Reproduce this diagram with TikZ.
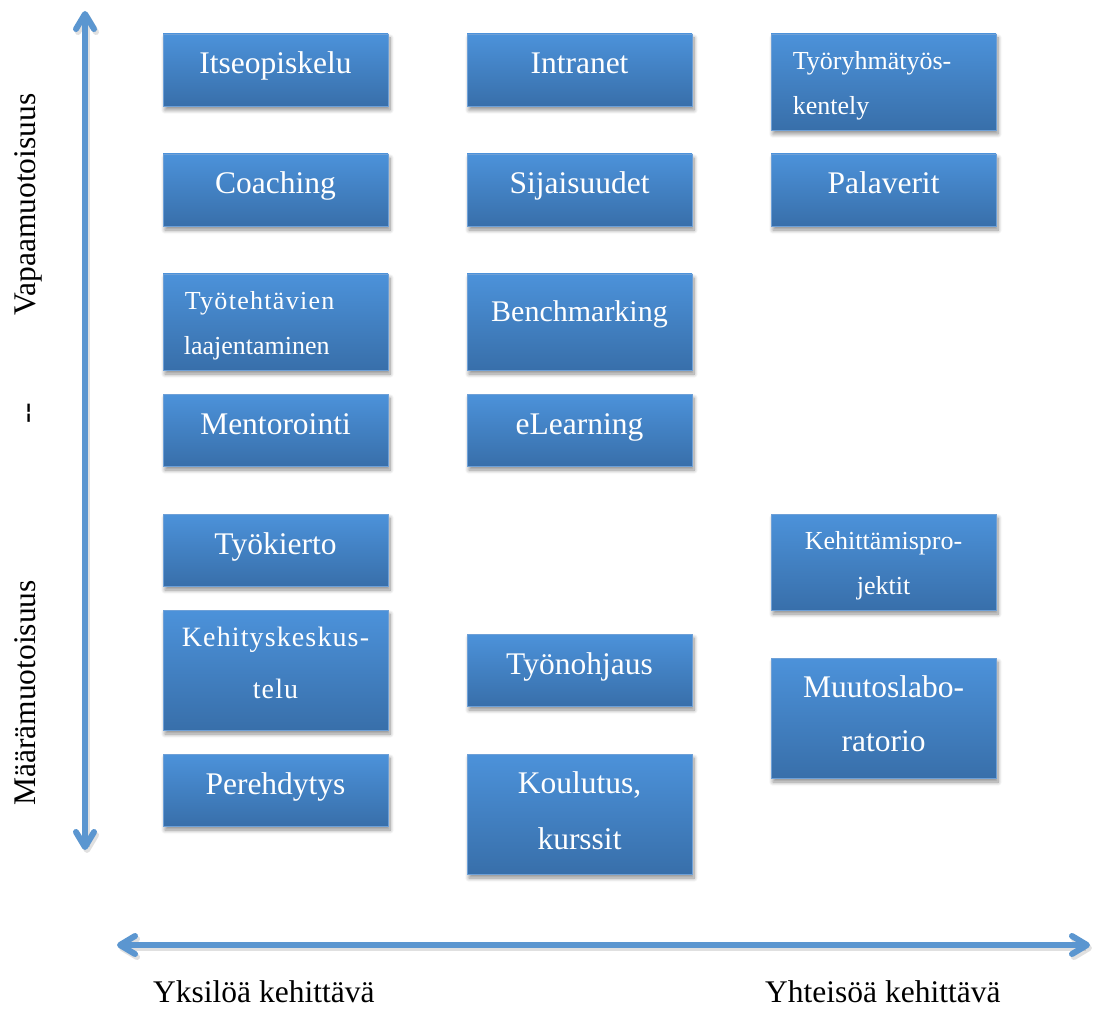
\documentclass[tikz,border=0pt]{standalone}
\usepackage{fontspec}
\setmainfont{Liberation Serif}
\usetikzlibrary{arrows.meta,shadows.blur}
\definecolor{btop}{RGB}{76,146,218}
\definecolor{bbot}{RGB}{56,111,170}
\definecolor{bedge}{RGB}{110,160,215}
\definecolor{arrowc}{RGB}{91,150,208}
\tikzset{
  box/.style={rectangle, minimum width=225pt, inner sep=0pt, top color=btop, bottom color=bbot,
    draw=bedge, line width=0.8pt,
    blur shadow={shadow xshift=2pt, shadow yshift=-4pt, shadow blur radius=4pt, shadow blur steps=8, shadow opacity=45}},
  big/.style={text=white, inner sep=0pt, font=\fontsize{31.5}{38}\selectfont},
  small/.style={text=white, inner sep=0pt, font=\fontsize{26}{32}\selectfont},
  axlbl/.style={text=black, inner sep=0pt, font=\fontsize{31.5}{38}\selectfont},
  >={Straight Barb[length=15pt,width=18pt,round]},
  axis/.style={line width=6pt, draw=arrowc, <->},
  axshadow/.style={line width=6pt, draw=black, opacity=0.12, <->}
}
\begin{document}
\begin{tikzpicture}[x=1pt,y=-1pt]
\useasboundingbox (0,0) rectangle (1095,1016);

% axes
\coordinate (vtop) at (85,11);
\coordinate (vbot) at (85,850);
\coordinate (hl) at (117,945);
\coordinate (hr) at (1090,945);
\draw[axshadow] ([xshift=2pt,yshift=-3pt]vtop) -- ([xshift=2pt,yshift=-3pt]vbot);
\draw[axshadow] ([xshift=2pt,yshift=-3pt]hl) -- ([xshift=2pt,yshift=-3pt]hr);
\draw[axis] (vtop) -- (vbot);
\draw[axis] (hl) -- (hr);

% boxes: column 1
\node[box, minimum height=72pt]  (b11) at (275.5,70) {};
\node[box, minimum height=72pt]  (b12) at (275.5,190) {};
\node[box, minimum height=96pt]  (b13) at (275.5,322) {};
\node[box, minimum height=72pt]  (b14) at (275.5,430) {};
\node[box, minimum height=72pt]  (b15) at (275.5,550) {};
\node[box, minimum height=120pt] (b16) at (275.5,670) {};
\node[box, minimum height=72pt]  (b17) at (275.5,790) {};
% column 2
\node[box, minimum height=72pt]  (b21) at (579.5,70) {};
\node[box, minimum height=72pt]  (b22) at (579.5,190) {};
\node[box, minimum height=96pt]  (b23) at (579.5,322) {};
\node[box, minimum height=72pt]  (b24) at (579.5,430) {};
\node[box, minimum height=72pt]  (b26) at (579.5,670) {};
\node[box, minimum height=120pt] (b27) at (579.5,814) {};
% column 3
\node[box, minimum height=96pt]  (b31) at (883.5,82) {};
\node[box, minimum height=72pt]  (b32) at (883.5,190) {};
\node[box, minimum height=96pt]  (b35) at (883.5,562) {};
\node[box, minimum height=120pt] (b36) at (883.5,718) {};

% texts column 1
\node[big, anchor=base] (t11) at ([yshift=-4pt]b11.center) {Itseopiskelu};
\node[big, anchor=base] (t12) at ([yshift=-4pt]b12.center) {Coaching};
\node[small, anchor=base west, font=\fontsize{26}{32}\selectfont\addfontfeature{LetterSpace=5}] (t13a) at ([xshift=22pt,yshift=-36pt]b13.north west) {Työtehtävien};
\node[small, anchor=base west] (t13b) at ([xshift=21pt,yshift=-81pt]b13.north west) {laajentaminen};
\node[big, anchor=base] (t14) at ([yshift=-4pt]b14.center) {Mentorointi};
\node[big, anchor=base] (t15) at ([yshift=-4pt]b15.center) {Työkierto};
\node[small, anchor=base, font=\fontsize{28}{32}\selectfont\addfontfeature{LetterSpace=4}] (t16a) at ([yshift=-37pt]b16.north) {Kehityskeskus-};
\node[small, anchor=base, font=\fontsize{28}{32}\selectfont\addfontfeature{LetterSpace=4}] (t16b) at ([yshift=-89pt]b16.north) {telu};
\node[big, anchor=base] (t17) at ([yshift=-4pt]b17.center) {Perehdytys};
% texts column 2
\node[big, anchor=base] (t21) at ([yshift=-4pt]b21.center) {Intranet};
\node[big, anchor=base] (t22) at ([yshift=-4pt]b22.center) {Sijaisuudet};
\node[big, anchor=base, font=\fontsize{30}{36}\selectfont] (t23) at ([yshift=-48pt]b23.north) {Benchmarking};
\node[big, anchor=base] (t24) at ([yshift=-4pt]b24.center) {eLearning};
\node[big, anchor=base] (t26) at ([yshift=-4pt]b26.center) {Työnohjaus};
\node[big, anchor=base] (t27a) at ([yshift=-40pt]b27.north) {Koulutus,};
\node[big, anchor=base] (t27b) at ([yshift=-96pt]b27.north) {kurssit};
% texts column 3
\node[small, anchor=base west] (t31a) at ([xshift=22pt,yshift=-36pt]b31.north west) {Työryhmätyös-};
\node[small, anchor=base west] (t31b) at ([xshift=22pt,yshift=-81pt]b31.north west) {kentely};
\node[big, anchor=base] (t32) at ([yshift=-4pt]b32.center) {Palaverit};
\node[small, anchor=base] (t35a) at ([yshift=-36pt]b35.north) {Kehittämispro-};
\node[small, anchor=base] (t35b) at ([yshift=-81pt]b35.north) {jektit};
\node[big, anchor=base] (t36a) at ([yshift=-40pt]b36.north) {Muutoslabo-};
\node[big, anchor=base] (t36b) at ([yshift=-94pt]b36.north) {ratorio};

% axis labels
\node[axlbl, rotate=90, anchor=base west] (vfree) at (35,316) {Vapaamuotoisuus};
\node[axlbl, rotate=90, anchor=base west] (vdash) at (36,424) {-{}-};
\node[axlbl, rotate=90, anchor=base west] (vfix) at (35,806) {Määrämuotoisuus};
\node[axlbl, anchor=base west] (hind) at (153,1002) {Yksilöä kehittävä};
\node[axlbl, anchor=base west] (hcom) at (765,1002) {Yhteisöä kehittävä};
\end{tikzpicture}
\end{document}
